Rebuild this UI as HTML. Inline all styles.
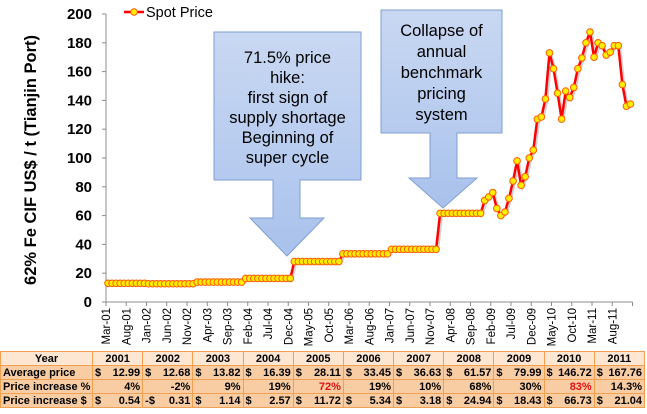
<!DOCTYPE html>
<html><head><meta charset="utf-8">
<style>
body{margin:0;background:#fff;font-family:"Liberation Sans",sans-serif;}
#wrap{position:relative;width:647px;height:414px;overflow:hidden;background:#fff;}
table{position:absolute;left:0;top:351px;width:645px;table-layout:fixed;border-collapse:collapse;font-family:"Liberation Sans",sans-serif;font-size:11px;font-weight:bold;}
td{border:1.5px solid #f0a050;height:13px;padding:0 2px;white-space:nowrap;overflow:hidden;background:#f9cda4;}
tr.hdr td{background:#fde6d2;text-align:center;}
td.lab{text-align:left;}
.s{float:left}.n{float:right}
.red{color:#e01010}
</style></head>
<body><div id="wrap">
<svg id="chart" width="647" height="352" style="position:absolute;left:0;top:0"></svg>
<table>
<colgroup><col style="width:92px"><col><col><col><col><col><col><col><col><col><col><col></colgroup>
<tr class="hdr"><td class="lab">Year</td><td>2001</td><td>2002</td><td>2003</td><td>2004</td><td>2005</td><td>2006</td><td>2007</td><td>2008</td><td>2009</td><td>2010</td><td>2011</td></tr>
<tr><td class="lab">Average price</td><td><span class="s">$</span><span class="n">12.99</span></td><td><span class="s">$</span><span class="n">12.68</span></td><td><span class="s">$</span><span class="n">13.82</span></td><td><span class="s">$</span><span class="n">16.39</span></td><td><span class="s">$</span><span class="n">28.11</span></td><td><span class="s">$</span><span class="n">33.45</span></td><td><span class="s">$</span><span class="n">36.63</span></td><td><span class="s">$</span><span class="n">61.57</span></td><td><span class="s">$</span><span class="n">79.99</span></td><td><span class="s">$</span><span class="n">146.72</span></td><td><span class="s">$</span><span class="n">167.76</span></td></tr>
<tr><td class="lab">Price increase %</td><td style="text-align:right">4%</td><td style="text-align:right">-2%</td><td style="text-align:right">9%</td><td style="text-align:right">19%</td><td style="text-align:right" class="red">72%</td><td style="text-align:right">19%</td><td style="text-align:right">10%</td><td style="text-align:right">68%</td><td style="text-align:right">30%</td><td style="text-align:right" class="red">83%</td><td style="text-align:right">14.3%</td></tr>
<tr><td class="lab">Price increase $</td><td><span class="s">$</span><span class="n">0.54</span></td><td><span class="s">-$</span><span class="n">0.31</span></td><td><span class="s">$</span><span class="n">1.14</span></td><td><span class="s">$</span><span class="n">2.57</span></td><td><span class="s">$</span><span class="n">11.72</span></td><td><span class="s">$</span><span class="n">5.34</span></td><td><span class="s">$</span><span class="n">3.18</span></td><td><span class="s">$</span><span class="n">24.94</span></td><td><span class="s">$</span><span class="n">18.43</span></td><td><span class="s">$</span><span class="n">66.73</span></td><td><span class="s">$</span><span class="n">21.04</span></td></tr>
</table>
</div>
<script>
const prices = [
12.99,12.99,12.99,12.99,12.99,12.99,12.99,12.99,12.99,12.99,
12.68,12.68,12.68,12.68,12.68,12.68,12.68,12.68,12.68,12.68,12.68,12.68,
13.82,13.82,13.82,13.82,13.82,13.82,13.82,13.82,13.82,13.82,13.82,13.82,
16.39,16.39,16.39,16.39,16.39,16.39,16.39,16.39,16.39,16.39,16.39,16.39,
28.11,28.11,28.11,28.11,28.11,28.11,28.11,28.11,28.11,28.11,28.11,28.11,
33.45,33.45,33.45,33.45,33.45,33.45,33.45,33.45,33.45,33.45,33.45,33.45,
36.63,36.63,36.63,36.63,36.63,36.63,36.63,36.63,36.63,36.63,36.63,36.63,
61.57,61.57,61.57,61.57,61.57,61.57,61.57,61.57,61.57,61.57,61.57,
70.5,73,
76,65,60,62.5,72,84,98,81,87,100,105.5,127,128.5,141,173,162,145,127,146.5,142,149,162,169.5,180,187.5,170,180,178,171.5,173.5,178,178,151,136,137.5
];
const xLabels = ["Mar-01","Aug-01","Jan-02","Jun-02","Nov-02","Apr-03","Sep-03","Feb-04","Jul-04","Dec-04","May-05","Oct-05","Mar-06","Aug-06","Jan-07","Jun-07","Nov-07","Apr-08","Sep-08","Feb-09","Jul-09","Dec-09","May-10","Oct-10","Mar-11","Aug-11"];
const yTicks = [0,20,40,60,80,100,120,140,160,180,200];

const NS="http://www.w3.org/2000/svg";
const svg=document.getElementById('chart');
const X0=106, DX=4.05, Y0=302, YS=1.44;
function xPos(i){return X0+DX*(i+0.5);}
function yPos(v){return Y0-v*YS;}
function mk(tag,attrs,parent){const e=document.createElementNS(NS,tag);for(const k in attrs)e.setAttribute(k,attrs[k]);(parent||svg).appendChild(e);return e;}

let ya=mk('line',{x1:X0,y1:yPos(200),x2:X0,y2:Y0,stroke:'#8c8c8c','stroke-width':1});


yTicks.forEach(t=>{
  const y=yPos(t);
  const tk=mk('line',{x1:X0-4,y1:y,x2:X0,y2:y,stroke:'#8c8c8c'});
  
  
  const tx=mk('text',{x:X0-14,y:y+5,'text-anchor':'end','font-size':15,'font-weight':'bold',fill:'#000'});
  tx.textContent=t;
  
  
});
const N=prices.length;
let xa=mk('line',{x1:X0,y1:Y0,x2:X0+DX*N,y2:Y0,stroke:'#8c8c8c'});


xLabels.forEach((l,k)=>{
  const x=X0+DX*5*k;
  const tk=mk('line',{x1:x,y1:Y0,x2:x,y2:Y0+4,stroke:'#8c8c8c'});
  
  
  const tx=mk('text',{x:0,y:0,transform:`translate(${x+4},${Y0+6}) rotate(-90)`,'text-anchor':'end','font-size':11.5,fill:'#000'});
  tx.textContent=l;
  
  
});
mk('line',{x1:X0+DX*N,y1:Y0,x2:X0+DX*N,y2:Y0+4,stroke:'#8c8c8c'});
const yt=mk('text',{x:0,y:0,transform:'translate(36,160) rotate(-90)','text-anchor':'middle','font-size':16.5,'font-weight':'bold',fill:'#000'});
yt.textContent='62% Fe CIF US$ / t (Tianjin Port)';



function callout(name,bx,by,bw,bh,sx1,sx2,hy,hx1,hx2,tipY,lines,ly,lh){
  const g=mk('g',{});
  
  
  const tipX=(hx1+hx2)/2;
  mk('path',{d:`M${bx},${by} H${bx+bw} V${by+bh} H${sx2} V${hy} H${hx2} L${tipX},${tipY} L${hx1},${hy} H${sx1} V${by+bh} H${bx} Z`,fill:'url(#bg)',stroke:'#7f9fd0','stroke-width':1},g);
  lines.forEach((t,i)=>{const tx=mk('text',{x:bx+bw/2,y:ly+i*lh,'text-anchor':'middle','font-size':16.5,fill:'#000'},g);tx.textContent=t;});
}
const defs=mk('defs',{});
const gr=mk('linearGradient',{id:'bg',x1:0,y1:0,x2:0,y2:1},defs);
mk('stop',{offset:'0','stop-color':'#c9d8f2'},gr);
mk('stop',{offset:'1','stop-color':'#a9c2ec'},gr);
callout('callout-2005-hike',214,32,147,148,273,300,218,250,324,256,["71.5% price","hike:","first sign of","supply shortage","Beginning of","super cycle"],63,20);
callout('callout-benchmark-collapse',381,10,121,123,430,457,178,409,477,208,["Collapse of","annual","benchmark","pricing","system"],36,21);

const pts=prices.map((v,i)=>`${xPos(i).toFixed(1)},${yPos(v).toFixed(1)}`).join(' ');
mk('polyline',{points:pts,fill:'none',stroke:'rgba(0,0,0,0.18)','stroke-width':3,transform:'translate(1.5,1.5)'});
const line=mk('polyline',{points:pts,fill:'none',stroke:'#ff0000','stroke-width':2.5,'stroke-linejoin':'round'});


prices.forEach((v,i)=>{
  const c=mk('circle',{cx:xPos(i),cy:yPos(v),r:3.3,fill:'#ffee00',stroke:'#ff5a00','stroke-width':1});
  
  
});
const lg=mk('g',{});


mk('line',{x1:124,y1:12,x2:144,y2:12,stroke:'#ff0000','stroke-width':2.5},lg);
mk('circle',{cx:134,cy:12,r:3.3,fill:'#ffee00',stroke:'#ff5a00'},lg);
const lt=mk('text',{x:146,y:17,'font-size':14.5,fill:'#000'},lg);
lt.textContent='Spot Price';
</script>
</body></html>
